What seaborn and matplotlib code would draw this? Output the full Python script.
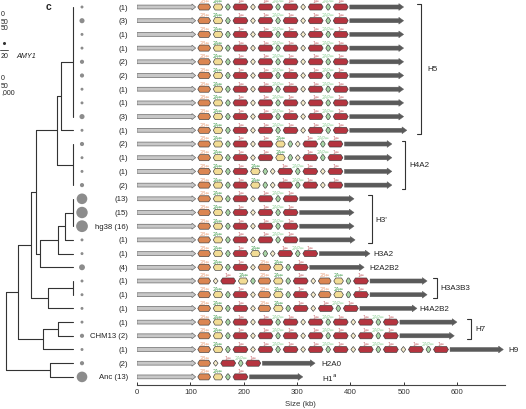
import numpy as np
import pandas as pd
import matplotlib
matplotlib.use('Agg')
import matplotlib.pyplot as plt
from matplotlib.patches import Polygon
import seaborn as sns

# ---- data (rows top to bottom) ----
row_names = [''] * 28
row_names[16] = 'hg38'
row_names[24] = 'CHM13'
row_names[27] = 'Anc'
row_counts = [1, 3, 1, 1, 2, 2, 1, 1, 3, 1,
              2, 1, 1, 2,
              13, 15, 16, 1,
              1, 4, 1, 1, 1, 1, 2, 1, 2, 13]

# gene order per haplotype: B=AMY2B, A=AMY2A, 1=AMY1, g/p=green pseudogene, d=small pseudogene
H5 = 'B A g 1 d 1 p 1 d 1 p 1'
H4A2_a = 'B A g 1 d 1 A g d 1 p 1'
H4A2_b = 'B A g 1 A g d 1 p 1 d 1'
H3p = 'B A g 1 d 1 p 1'
H3A2 = 'B A g 1 A g d 1 p 1'
H2A2B2 = 'B A g 1 d B A g 1'
H3A3B3_a = 'B d 1 A g B A g 1 d B A g 1'
H3A3B3_b = 'B A g 1 d B A g 1 d B A g 1'
H4A2B2 = 'B A g 1 d B A g 1 d 1 p 1'
H7 = 'B A g 1 d 1 p 1 d 1 p 1 d 1 p 1'
H9 = 'B A g 1 d 1 p 1 d 1 p 1 d 1 p 1 d 1 p 1'
H2A0 = 'B d 1 p 1'
H1a = 'B A g 1'
row_genes = [H5] * 10 + [H4A2_a, H4A2_a, H4A2_b, H4A2_b] + [H3p] * 4 + \
            [H3A2, H2A2B2, H3A3B3_a, H3A3B3_b, H4A2B2, H7, H7, H9, H2A0, H1a]

# haplotype size (kb)
row_ends = [500] * 9 + [506] + [478] * 4 + [407, 407, 407, 409] + \
           [437, 426, 544, 544, 525, 600, 595, 687, 334, 311]

gene_len = {'B': 24, 'A': 18, 'g': 9, 'p': 9, '1': 28, 'd': 9}

# tree: (node depth, children); leaves are row indices
tree = (6, [
    (18, [
        (31, [
            (36, [
                (57, [
                    (61, [(73, [0, 1, 2, 3, 4, 5, 6, 7, 8]), 9]),
                    (73, [10, 11, 12, 13]),
                ]),
                (40, [(58, [(65, [(73, [14, 15, 16]), 17]), 18]), 19]),
            ]),
            (48, [(73, [20, 21]), 22]),
        ]),
        (43, [(58, [23, 24]), 25]),
    ]),
    (50, [26, 27]),
])
tip_x = 73

# haplotype groups: name, first row, last row, label x (kb), bracket x (kb or None)
groups = [
    ('H5', 0, 9, 545, 532),
    ('H4A2', 10, 13, 510, 503),
    ("H3'", 14, 17, 447, 440),
    ('H3A2', 18, 18, 443, None),
    ('H2A2B2', 19, 19, 435, None),
    ('H3A3B3', 20, 21, 569, 562),
    ('H4A2B2', 22, 22, 529, None),
    ('H7', 23, 24, 634, 626),
    ('H9', 25, 25, 696, None),
    ('H2A0', 26, 26, 346, None),
    ('H1$^{\\mathrm{a}}$', 27, 27, 346, None),
]

# ---- style ----
fill = {'B': '#db8652', 'A': '#f2dc95', 'g': '#a9d6a6', 'p': '#a9d6a6',
        '1': '#b5343f', 'd': '#f6eccb'}
label_txt = {'B': '2B⇐', 'A': '2A⇐', '1': '1⇐', 'p': '2AP⇐'}
label_col = {'B': '#eba27c', 'A': '#3c9a4a', '1': '#c96a6e', 'p': '#93d39b'}

sns.set_theme(style='white')
plt.rcParams['font.family'] = ['Liberation Sans', 'DejaVu Sans']

W, H = 526, 410
fig = plt.figure(figsize=(W / 100, H / 100), dpi=100)
bottom_px = 386
ylim = ((bottom_px - 8) / 13.7, -8 / 13.7)
ax_tree = fig.add_axes([0, 1 - bottom_px / H, 137 / W, bottom_px / H])
ax_gene = fig.add_axes([137 / W, 1 - bottom_px / H, 1 - 137 / W, bottom_px / H])
for ax in (ax_tree, ax_gene):
    ax.set_ylim(*ylim)
    ax.patch.set_alpha(0)
ax_tree.set_xlim(0, 137)
ax_tree.axis('off')
ax_gene.set_xlim(0, (W - 137) / 0.5333)


# ---- tree ----
def draw_node(node, parent_x):
    if isinstance(node, int):
        ax_tree.plot([parent_x, tip_x], [node, node], color='#333333', lw=0.8)
        return node
    depth, kids = node
    ys = [draw_node(k, depth) for k in kids]
    y = (ys[0] + ys[-1]) / 2
    ax_tree.plot([depth, depth], [ys[0], ys[-1]], color='#333333', lw=0.8)
    if parent_x is not None:
        ax_tree.plot([parent_x, depth], [y, y], color='#333333', lw=0.8)
    return y


draw_node(tree, None)

rows = np.arange(len(row_counts))
df = pd.DataFrame({'x': 82, 'row': rows, 'count': row_counts})
sns.scatterplot(data=df, x='x', y='row', size='count', sizes=(4.5, 72),
                color='#8c8c8c', edgecolor='none', legend=False, ax=ax_tree)
ax_tree.set_xlim(0, 137)
ax_tree.set_ylim(*ylim)
for r, (name, c) in enumerate(zip(row_names, row_counts)):
    txt = f'{name} ({c})' if name else f'({c})'
    ax_tree.text(128, r, txt, ha='right', va='center', fontsize=5.6, color='#222222')


# ---- haplotype structures ----
def hexagon(x0, x1, y, hh, tip):
    tip = min(tip, (x1 - x0) / 2)
    return [(x0, y), (x0 + tip, y - hh), (x1 - tip, y - hh), (x1, y),
            (x1 - tip, y + hh), (x0 + tip, y + hh)]


def arrow_bar(x0, x1, y, hb, hh, head):
    return [(x0, y - hb), (x1 - head, y - hb), (x1 - head, y - hh), (x1, y),
            (x1 - head, y + hh), (x1 - head, y + hb), (x0, y + hb)]


for r, (genes, end) in enumerate(zip(row_genes, row_ends)):
    ax_gene.add_patch(Polygon(arrow_bar(0, 110, r, 0.14, 0.22, 7), closed=True,
                              fc='#c8c8c8', ec='#6a6a6a', lw=0.5))
    pos = 114
    for tok in genes.split():
        w = gene_len[tok]
        tip = w / 2 if tok == 'd' else 3.5
        ax_gene.add_patch(Polygon(hexagon(pos, pos + w, r, 0.22, tip), closed=True,
                                  fc=fill[tok], ec='#3b3b3b', lw=0.45, zorder=3))
        if tok in label_txt:
            ax_gene.text(pos + w / 2, r - 0.26, label_txt[tok], ha='center', va='bottom',
                         fontsize=3.3, color=label_col[tok],
                         family=['DejaVu Sans'])
        pos += w + 5
    ax_gene.add_patch(Polygon(arrow_bar(pos - 2, end, r, 0.15, 0.25, 9), closed=True,
                              fc='#5a5a5a', ec='#5a5a5a', lw=0.3, zorder=2))

# group brackets and names
for name, r0, r1, lx, bx in groups:
    if bx is not None:
        ya, yb = r0 - 0.25, r1 + 0.25
        ax_gene.plot([bx - 7, bx, bx, bx - 7], [ya, ya, yb, yb], color='#333333',
                     lw=0.8, clip_on=False)
    ax_gene.text(lx, (r0 + r1) / 2, name, ha='left', va='center', fontsize=5.8,
                 color='#222222', clip_on=False)

# size axis
sns.despine(ax=ax_gene, left=True)
ax_gene.spines['bottom'].set_bounds(0, 690)
ax_gene.spines['bottom'].set_color('#444444')
ax_gene.spines['bottom'].set_linewidth(0.8)
ax_gene.set_yticks([])
ax_gene.set_xticks(np.arange(0, 700, 100))
ax_gene.tick_params(axis='x', bottom=True, direction='in', length=2.5, width=0.7,
                    pad=2, labelsize=5.6, colors='#333333')
ax_gene.set_xlabel('Size (kb)', fontsize=5.6, color='#333333')
ax_gene.xaxis.set_label_coords((300 - 137) / (W - 137), -0.038)


# ---- panel letter and the edge of the previous panel ----
def ftext(x, y, s, **kw):
    fig.text(x / W, 1 - y / H, s, **kw)


ftext(48, 7, 'c', fontsize=7.5, fontweight='bold', va='center', ha='center')
for y, s in [(15, '0'), (22, '50'), (29, '50'), (57, '20'),
             (79, '0'), (86, '50'), (93, ',000')]:
    ftext(1, y, s, fontsize=5.0, ha='left', va='center', color='#222222')
ftext(16, 57, 'AMY1', fontsize=5.2, style='italic', va='center', color='#222222')
fig.add_artist(plt.Line2D([0, 8 / W], [1 - 51 / H, 1 - 51 / H], color='#333333', lw=0.6))
fig.add_artist(plt.Line2D([4 / W], [1 - 44 / H], marker='o', ms=1.2, color='#333333'))

fig.savefig('out.png', dpi=100)
